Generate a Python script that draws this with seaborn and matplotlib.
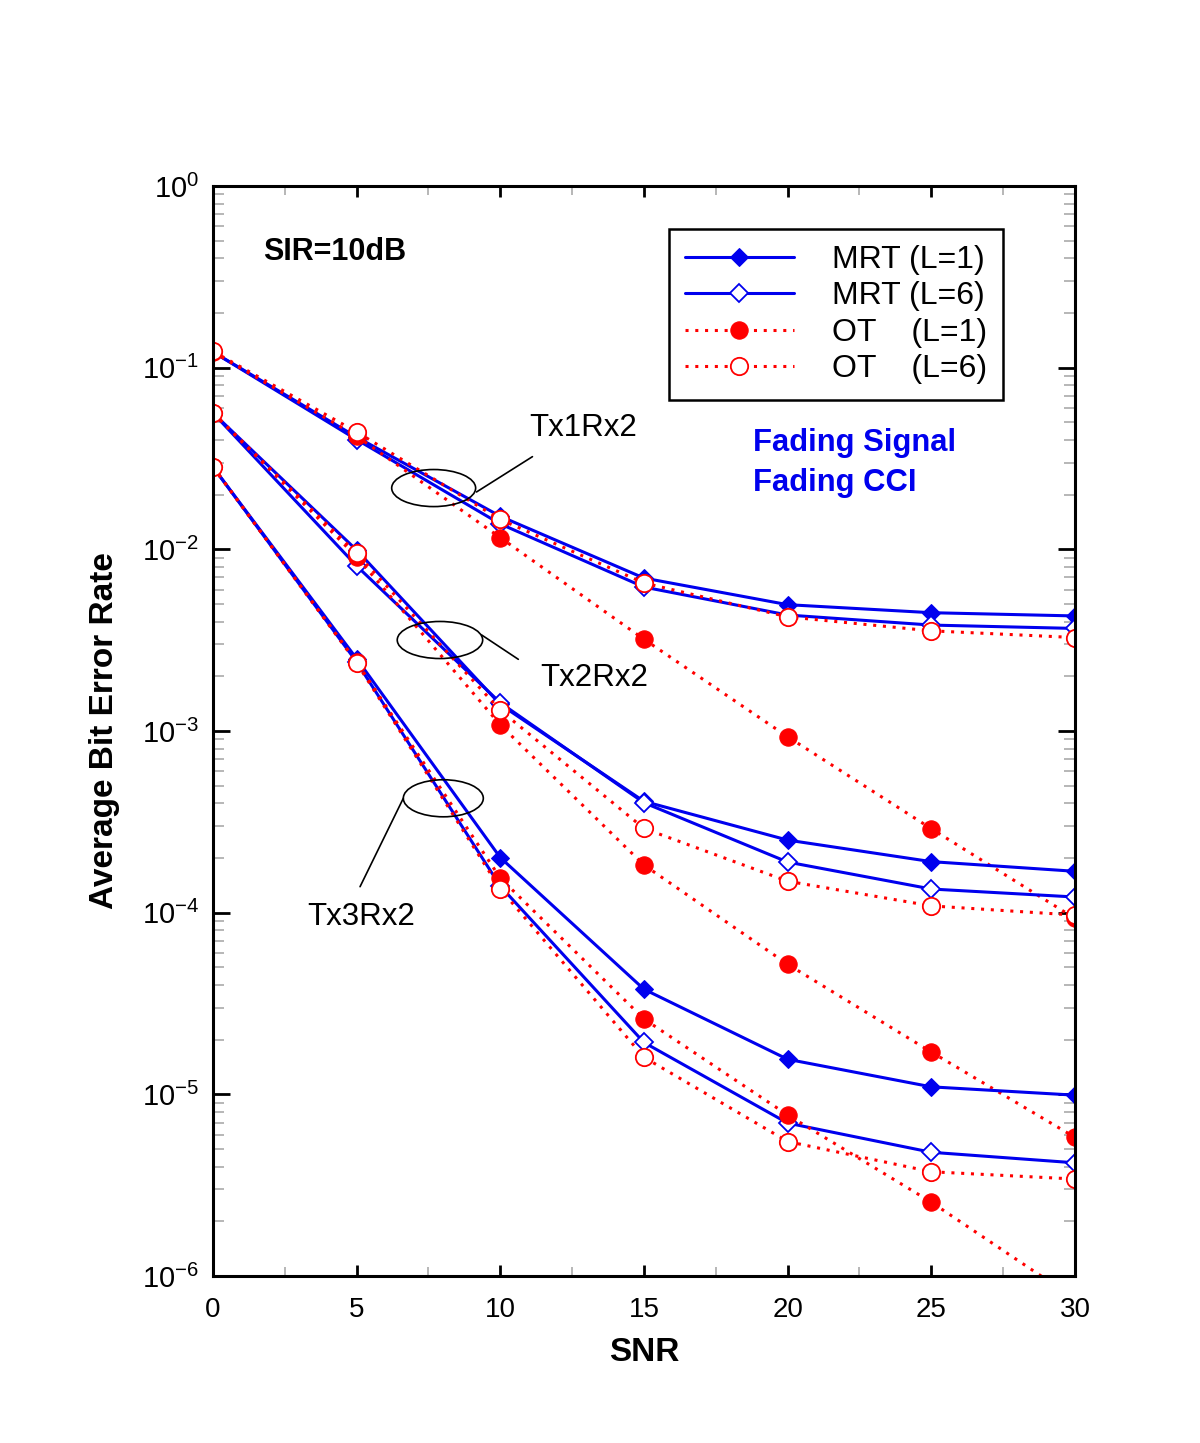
import numpy as np
import pandas as pd
import seaborn as sns
import matplotlib
matplotlib.use("Agg")
from matplotlib import pyplot as plt
from matplotlib import ticker
from matplotlib.patches import Ellipse

snr = [0, 5, 10, 15, 20, 25, 30]

# Tx1Rx2
tx1_mrt_l1 = [0.122, 0.0415, 0.0152, 0.00695, 0.00496, 0.00448, 0.0043]
tx1_mrt_l6 = [0.122, 0.0402, 0.0138, 0.0062, 0.00435, 0.00383, 0.00367]
tx1_ot_l1 = [0.122, 0.042, 0.0116, 0.0032, 0.00093, 0.00029, 9.3e-5]
tx1_ot_l6 = [0.123, 0.0443, 0.0146, 0.00653, 0.00425, 0.00356, 0.00327]

# Tx2Rx2
tx2_mrt_l1 = [0.0563, 0.0099, 0.0014, 4.1e-4, 2.51e-4, 1.91e-4, 1.69e-4]
tx2_mrt_l6 = [0.0563, 0.0081, 0.00143, 4.03e-4, 1.9e-4, 1.35e-4, 1.22e-4]
tx2_ot_l1 = [0.0563, 0.0091, 0.00108, 1.83e-4, 5.2e-5, 1.71e-5, 5.8e-6]
tx2_ot_l6 = [0.0565, 0.0095, 0.0013, 2.91e-4, 1.49e-4, 1.09e-4, 9.7e-5]

# Tx3Rx2
tx3_mrt_l1 = [0.0284, 0.0025, 2.01e-4, 3.79e-5, 1.56e-5, 1.1e-5, 9.9e-6]
tx3_mrt_l6 = [0.0284, 0.0024, 1.4e-4, 1.93e-5, 6.95e-6, 4.8e-6, 4.2e-6]
tx3_ot_l1 = [0.0284, 0.0024, 1.55e-4, 2.6e-5, 7.7e-6, 2.55e-6, 7.5e-7]
tx3_ot_l6 = [0.0285, 0.00237, 1.35e-4, 1.6e-5, 5.5e-6, 3.75e-6, 3.42e-6]

labels = ["MRT (L=1)", "MRT (L=6)", "OT    (L=1)", "OT    (L=6)"]
groups = [
    [tx1_mrt_l1, tx1_mrt_l6, tx1_ot_l1, tx1_ot_l6],
    [tx2_mrt_l1, tx2_mrt_l6, tx2_ot_l1, tx2_ot_l6],
    [tx3_mrt_l1, tx3_mrt_l6, tx3_ot_l1, tx3_ot_l6],
]

sns.set_style("ticks")
plt.rcParams["font.family"] = ["Liberation Sans", "DejaVu Sans"]
plt.rcParams["axes.unicode_minus"] = False
plt.rcParams["mathtext.fontset"] = "custom"
plt.rcParams["mathtext.rm"] = "Liberation Sans"
for key in ["text.color", "axes.labelcolor", "xtick.color", "ytick.color", "axes.edgecolor"]:
    plt.rcParams[key] = "black"

blue = "#0000ee"
red = "#ff0000"
styles = [
    dict(color=blue, linestyle="-", linewidth=2.2, marker="D", markersize=9.5,
         markerfacecolor=blue, markeredgecolor=blue),
    dict(color=blue, linestyle="-", linewidth=2.2, marker="D", markersize=9.5,
         markerfacecolor="white", markeredgecolor=blue, markeredgewidth=1.3),
    dict(color=red, linestyle=(0, (1, 2.2)), linewidth=2.2, marker="o", markersize=12.5,
         markerfacecolor=red, markeredgecolor=red),
    dict(color=red, linestyle=(0, (1, 2.2)), linewidth=2.2, marker="o", markersize=12.5,
         markerfacecolor="white", markeredgecolor=red, markeredgewidth=1.3),
]

fig = plt.figure(figsize=(12, 14.43), dpi=100)
ax = fig.add_axes([0.1775, 0.1157, 0.7183, 0.7554])

handles = []
for g, series in enumerate(groups):
    for k, vals in enumerate(series):
        df = pd.DataFrame({"SNR": snr, "BER": vals})
        sns.lineplot(data=df, x="SNR", y="BER", ax=ax, sort=False, **styles[k])
        if g == 0:
            handles.append(ax.lines[-1])

ax.set_yscale("log")
ax.set_xlim(0, 30)
ax.set_ylim(1e-6, 1)
ax.xaxis.set_major_locator(ticker.MultipleLocator(5))
ax.xaxis.set_minor_locator(ticker.MultipleLocator(2.5))
ax.yaxis.set_major_locator(ticker.FixedLocator([1e-6, 1e-5, 1e-4, 1e-3, 1e-2, 1e-1, 1]))
ax.yaxis.set_major_formatter(ticker.FuncFormatter(
    lambda v, pos: "$\\mathregular{10^{%d}}$" % round(np.log10(v))))
ax.yaxis.set_minor_locator(ticker.LogLocator(base=10, subs=np.arange(2, 10), numticks=20))
ax.yaxis.set_minor_formatter(ticker.NullFormatter())

for s in ax.spines.values():
    s.set_linewidth(2.2)
    s.set_color("black")
ax.tick_params(which="both", direction="in", top=True, right=True)
ax.tick_params(axis="y", which="major", length=12, width=2, color="black", labelsize=21, pad=10)
ax.tick_params(axis="y", which="minor", length=8, width=1.2, color="#aaaaaa")
ax.tick_params(axis="x", which="major", length=8, width=2, color="black", labelsize=20, pad=15)
ax.tick_params(axis="x", which="minor", length=6.5, width=1.2, color="#aaaaaa")

ax.set_xlabel("SNR", fontsize=24, fontweight="bold", va="center")
ax.set_ylabel("Average Bit Error Rate", fontsize=24, fontweight="bold", va="center")
ax.xaxis.set_label_coords(0.5, -0.0697)
ax.yaxis.set_label_coords(-0.1253, 0.5)

leg = ax.legend(handles, labels, loc="upper left", bbox_to_anchor=(0.529, 0.9606),
                fontsize=23, frameon=True, fancybox=False, framealpha=1,
                handlelength=3.4, handletextpad=1.2, labelspacing=0.2,
                borderpad=0.5, borderaxespad=0, numpoints=1)
leg.get_frame().set_edgecolor("black")
leg.get_frame().set_linewidth(1.8)

ax.text(0.1415, 0.9397, "SIR=10dB", transform=ax.transAxes, fontsize=22,
        fontweight="bold", ha="center", va="center")
ax.text(0.6260, 0.7642, "Fading Signal", transform=ax.transAxes, fontsize=22.3,
        fontweight="bold", color=blue, ha="left", va="center")
ax.text(0.6260, 0.7275, "Fading CCI", transform=ax.transAxes, fontsize=22.3,
        fontweight="bold", color=blue, ha="left", va="center")

notes = [
    ("Tx1Rx2", (0.4296, 0.7780), (0.2560, 0.7229), 0.0974, ((0.3057, 0.7193), (0.3706, 0.7517))),
    ("Tx2Rx2", (0.442, 0.5486), (0.2633, 0.5835), 0.0991, ((0.3117, 0.5881), (0.3542, 0.5658))),
    ("Tx3Rx2", (0.1715, 0.3296), (0.2672, 0.4383), 0.0928, ((0.2208, 0.4383), (0.1706, 0.3572))),
]
for name, tpos, cpos, w, (p0, p1) in notes:
    ax.text(tpos[0], tpos[1], name, transform=ax.transAxes, fontsize=22.5,
            ha="center", va="center")
    ax.add_patch(Ellipse(cpos, w, 0.034, transform=ax.transAxes, fill=False,
                         edgecolor="black", linewidth=1.2, zorder=5))
    ax.plot([p0[0], p1[0]], [p0[1], p1[1]], transform=ax.transAxes,
            color="black", linewidth=1.2)

fig.savefig("out.png", dpi=100, facecolor="white")
